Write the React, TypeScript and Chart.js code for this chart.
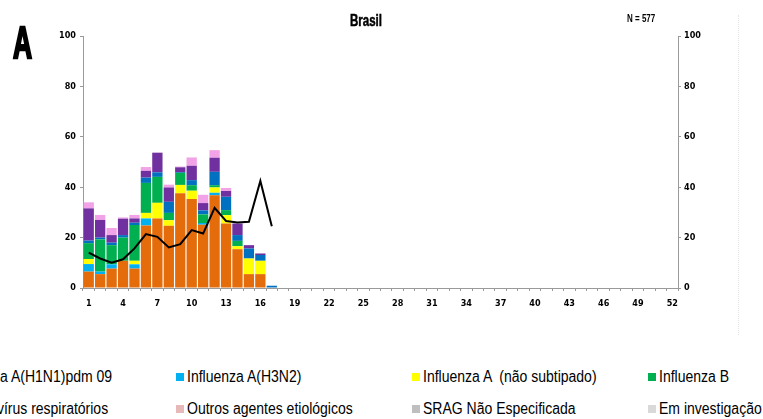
import React, { useEffect, useRef } from "react";
import { Chart, registerables } from "chart.js";

Chart.register(...registerables);

const weeks: string[] = Array.from({ length: 52 }, (_, i) => String(i + 1));

const h1n1 = [6.5, 5.5, 7.7, 10.8, 7.7, 24.8, 27.6, 24.7, 37.6, 35.3, 25.1, 36.8, 25.6, 15.4, 5.5, 5.5, 0];
const h3n2 = [3, 1, 1.7, 0, 1.7, 2.8, 0, 0, 0, 0, 0.7, 1, 0, 0, 0, 0, 0];
const fluANaoSub = [2, 0, 0, 0, 1.4, 2.2, 6.2, 2.2, 3.3, 3.3, 0, 2.1, 3.3, 1.2, 6.2, 5.3, 0];
const fluB = [6.3, 12.8, 7.6, 9.2, 14.2, 11.9, 10.3, 2.9, 4.8, 2.2, 3.4, 0.9, 2.0, 2.1, 0, 0, 0];
const vsr = [1, 0.7, 1, 1, 0.9, 2.1, 1.8, 4.4, 0.3, 2, 1.6, 5.3, 5.3, 2.3, 4, 2.3, 0.9];
const outrosVirus = [12.8, 7.0, 3.0, 6.5, 1.7, 2.7, 7.8, 5.7, 1.9, 5.7, 2.9, 5.6, 2.3, 4.6, 1.3, 0.6, 0];
const outrosAgentes = [2.4, 2.0, 2.8, 0.5, 1.4, 1.5, 0, 1.1, 0.3, 3.3, 3.3, 3.0, 1.2, 0, 0, 0, 0];
const positividade = [14, 11.7, 10, 11.4, 15.7, 21.4, 20.3, 16.1, 17.4, 23, 21.6, 31.8, 26.6, 26, 26.3, 42.5, 24.5];

const yTicks = [0, 20, 40, 60, 80, 100];

const legendRows: { label: string; color: string }[][] = [
  [
    { label: "Influenza A(H1N1)pdm 09", color: "#E46C0A" },
    { label: "Influenza A(H3N2)", color: "#00B0F0" },
    { label: "Influenza A  (não subtipado)", color: "#FFFF00" },
    { label: "Influenza B", color: "#00B050" },
  ],
  [
    { label: "Outros vírus respiratórios", color: "#7030A0" },
    { label: "Outros agentes etiológicos", color: "#E6B8B7" },
    { label: "SRAG Não Especificada", color: "#BFBFBF" },
    { label: "Em investigação", color: "#D9D9D9" },
  ],
];

const TICK_FONT = "'DejaVu Sans Condensed', 'Liberation Sans', Arial, sans-serif";
const TEXT_FONT = "'Liberation Sans', Arial, sans-serif";

export default function App() {
  const ref = useRef<HTMLCanvasElement | null>(null);

  useEffect(() => {
    if (!ref.current) return;
    const bar = (label: string, data: number[], color: string) => ({
      type: "bar" as const,
      label,
      data,
      backgroundColor: color,
      borderWidth: 0,
      yAxisID: "y",
      stack: "s",
      order: 2,
      barPercentage: 0.9,
      categoryPercentage: 1.0,
    });
    const tickFont = { family: TICK_FONT, size: 9, weight: "bold" };
    const chart = new Chart(ref.current, {
      type: "bar",
      data: {
        labels: weeks,
        datasets: [
          {
            type: "line" as const,
            label: "% positividade",
            data: positividade,
            borderColor: "#000000",
            borderWidth: 2,
            pointRadius: 0,
            tension: 0,
            yAxisID: "y1",
            order: 0,
          } as any,
          bar("Influenza A(H1N1)pdm 09", h1n1, "#E46C0A"),
          bar("Influenza A(H3N2)", h3n2, "#00B0F0"),
          bar("Influenza A (não subtipado)", fluANaoSub, "#FFFF00"),
          bar("Influenza B", fluB, "#00B050"),
          bar("VSR", vsr, "#0070C0"),
          bar("Outros vírus respiratórios", outrosVirus, "#7030A0"),
          bar("Outros agentes etiológicos", outrosAgentes, "#F2A2E6"),
        ],
      },
      options: {
        animation: false,
        responsive: false,
        devicePixelRatio: 1,
        layout: { padding: { top: 36, bottom: 0, left: 0, right: 0 } },
        plugins: {
          legend: { display: false },
          title: { display: false },
          tooltip: { enabled: false },
        },
        scales: {
          x: {
            stacked: true,
            offset: true,
            grid: {
              drawOnChartArea: false,
              drawTicks: true,
              tickLength: 3,
              color: "#9a9a9a",
            },
            border: { display: true, color: "#9a9a9a" },
            ticks: {
              autoSkip: false,
              maxRotation: 0,
              padding: 7,
              color: "#000",
              font: tickFont,
              callback: (_v: any, i: number) => (i % 3 === 0 ? weeks[i] : ""),
            },
            afterFit: (s: any) => {
              s.height = 22;
            },
          },
          y: {
            stacked: true,
            position: "left",
            min: 0,
            max: 100,
            afterBuildTicks: (s: any) => {
              s.ticks = yTicks.map((v) => ({ value: v }));
            },
            grid: { drawOnChartArea: false, tickLength: 3, color: "#9a9a9a" },
            border: { display: true, color: "#9a9a9a" },
            ticks: { padding: 4, color: "#000", font: tickFont },
            afterFit: (s: any) => {
              s.width = 83;
            },
          },
          y1: {
            position: "right",
            min: 0,
            max: 100,
            afterBuildTicks: (s: any) => {
              s.ticks = yTicks.map((v) => ({ value: v }));
            },
            grid: { drawOnChartArea: false, tickLength: 3, color: "#9a9a9a" },
            border: { display: true, color: "#9a9a9a" },
            ticks: { padding: 3, color: "#000", font: tickFont },
            afterFit: (s: any) => {
              s.width = 85;
            },
          },
        },
      } as any,
    });
    return () => chart.destroy();
  }, []);

  const colLeft = [-60, 176, 412, 648];
  const rowTop = [368, 400];

  return (
    <div
      style={{
        position: "fixed",
        left: 0,
        top: 0,
        width: 763,
        height: 419,
        overflow: "hidden",
        background: "#fff",
        fontFamily: TEXT_FONT,
      }}
    >
      <canvas ref={ref} width={763} height={310} style={{ position: "absolute", left: 0, top: 0, width: 763, height: 310 }} />
      <div
        style={{
          position: "absolute",
          left: 13,
          top: 19,
          fontSize: 44,
          fontWeight: 900,
          lineHeight: "48px",
          color: "#000",
          WebkitTextStroke: "2.5px #000",
          transform: "scaleX(0.6)",
          transformOrigin: "left top",
        } as any}
      >
        A
      </div>
      <div
        style={{
          position: "absolute",
          left: 366,
          top: 12,
          fontSize: 16,
          fontWeight: "bold",
          lineHeight: "18px",
          color: "#000",
          WebkitTextStroke: "0.5px #000",
          transform: "translateX(-50%) scaleX(0.72)",
          transformOrigin: "center top",
          whiteSpace: "nowrap",
        } as any}
      >
        Brasil
      </div>
      <div
        style={{
          position: "absolute",
          left: 627,
          top: 12,
          fontSize: 10,
          fontWeight: "bold",
          lineHeight: "13px",
          color: "#000",
          transform: "scaleX(0.8)",
          transformOrigin: "left top",
          whiteSpace: "nowrap",
        }}
      >
        N = 577
      </div>
      <div style={{ position: "absolute", left: 738, top: 15, height: 320, borderLeft: "1px dotted #e4e4e4" }} />
      {legendRows.map((row, r) =>
        row.map((item, c) => (
          <div
            key={r + "-" + c}
            style={{
              position: "absolute",
              left: colLeft[c],
              top: rowTop[r],
              height: 18,
              whiteSpace: "pre",
              fontSize: 16,
              lineHeight: "18px",
              color: "#000",
            }}
          >
            <span style={{ position: "absolute", left: 0, top: 5, width: 8, height: 8, background: item.color }} />
            <span
              style={{
                position: "absolute",
                left: 11,
                top: 0,
                whiteSpace: "pre",
                transform: "scaleX(0.875)",
                transformOrigin: "left top",
              }}
            >
              {item.label}
            </span>
          </div>
        ))
      )}
    </div>
  );
}
